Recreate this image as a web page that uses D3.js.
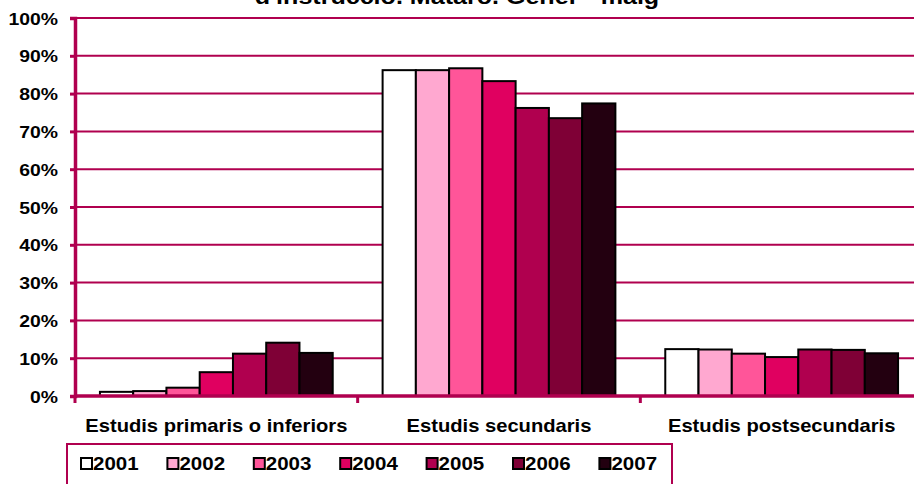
<!DOCTYPE html>
<html><head><meta charset="utf-8">
<script src="https://cdn.jsdelivr.net/npm/d3@7"></script>
<style>body{margin:0;background:#fff}svg{display:block;font-family:Arial,"Liberation Sans",sans-serif}</style>
</head><body><svg id="c" width="914" height="484"></svg>
<script>
const categories = ["Estudis primaris o inferiors", "Estudis secundaris", "Estudis postsecundaris"];
const years = ["2001", "2002", "2003", "2004", "2005", "2006", "2007"];
const values = {
  "2001": [1.1, 86.2, 12.4],
  "2002": [1.3, 86.2, 12.3],
  "2003": [2.2, 86.7, 11.2],
  "2004": [6.3, 83.3, 10.3],
  "2005": [11.2, 76.2, 12.3],
  "2006": [14.1, 73.5, 12.2],
  "2007": [11.4, 77.4, 11.3]
};
const colors = ["#FFFFFF", "#FFA8D0", "#FF5599", "#E00060", "#B0004F", "#7F0036", "#230010"];
const yTicks = [0, 10, 20, 30, 40, 50, 60, 70, 80, 90, 100];
const title = "d'instrucció. Mataró. Gener - maig";

const svg = d3.select("#c");
const axisColor = "#B0004F";
const SX = 1.14;
const mLeft = 75, mRight = 923, mTop = 18, mBottom = 396;

const x0 = d3.scaleBand().domain(categories).range([mLeft, mRight]).paddingInner(0).paddingOuter(0);
const slot = x0.bandwidth() / 8.5;
const x1 = d3.scaleBand().domain(years).range([0.75 * slot, x0.bandwidth() - 0.75 * slot]).padding(0);
const y = d3.scaleLinear().domain([0, 100]).range([mBottom, mTop]);

// title
svg.append("text").attr("transform", `translate(457,4) scale(${SX},1)`).attr("text-anchor", "middle")
  .attr("font-size", 22).attr("font-weight", "bold").attr("fill", "#000").text(title);

// gridlines
svg.append("g").selectAll("line").data(yTicks.filter(d => d > 0)).join("line")
  .attr("x1", mLeft).attr("x2", mRight).attr("y1", d => y(d)).attr("y2", d => y(d))
  .attr("stroke", axisColor).attr("stroke-width", 2);

// bars
const g = svg.append("g");
years.forEach((yr, i) => {
  g.append("g").selectAll("rect").data(values[yr]).join("rect")
    .attr("x", (d, j) => x0(categories[j]) + x1(yr))
    .attr("y", d => y(d))
    .attr("width", x1.bandwidth())
    .attr("height", d => y(0) - y(d))
    .attr("fill", colors[i]).attr("stroke", "#000").attr("stroke-width", 2);
});

// y axis
const yAxis = d3.axisLeft(y).tickValues(yTicks).tickSize(5).tickFormat(d => d + "%");
const ya = svg.append("g").attr("transform", `translate(${mLeft},0)`).call(yAxis);
ya.select(".domain").attr("stroke", axisColor).attr("stroke-width", 3.5);
ya.selectAll(".tick line").attr("stroke", axisColor).attr("stroke-width", 3);
ya.selectAll(".tick text").attr("font-size", 17).attr("font-weight", "bold").attr("fill", "#000")
  .attr("font-family", "Arial, 'Liberation Sans', sans-serif")
  .attr("x", 0).attr("dy", null).attr("y", 6)
  .attr("transform", `translate(-17,0) scale(${SX},1)`);

// x axis
svg.append("line").attr("x1", mLeft).attr("x2", mRight).attr("y1", y(0)).attr("y2", y(0))
  .attr("stroke", axisColor).attr("stroke-width", 3.5);
svg.append("g").selectAll("line").data(categories).join("line")
  .attr("x1", d => x0(d)).attr("x2", d => x0(d)).attr("y1", y(0)).attr("y2", y(0) + 7)
  .attr("stroke", axisColor).attr("stroke-width", 3);
svg.append("g").selectAll("text").data(categories).join("text")
  .attr("transform", d => `translate(${x0(d) + x0.bandwidth() / 2},431.5) scale(${1.12},1)`)
  .attr("text-anchor", "middle")
  .attr("font-size", 18).attr("font-weight", "bold").attr("fill", "#000").text(d => d);

// legend
svg.append("rect").attr("x", 67).attr("y", 444).attr("width", 605).attr("height", 60)
  .attr("fill", "#fff").attr("stroke", axisColor).attr("stroke-width", 2);
const lg = svg.append("g").selectAll("g").data(years).join("g")
  .attr("transform", (d, i) => `translate(${81 + i * 86.4},0)`);
lg.append("rect").attr("x", 0).attr("y", 458).attr("width", 11).attr("height", 11)
  .attr("fill", (d, i) => colors[i]).attr("stroke", "#000").attr("stroke-width", 2);
lg.append("text").attr("transform", `translate(12,470) scale(${SX},1)`)
  .attr("font-size", 18).attr("font-weight", "bold")
  .attr("fill", "#000").text(d => d);
</script></body></html>
